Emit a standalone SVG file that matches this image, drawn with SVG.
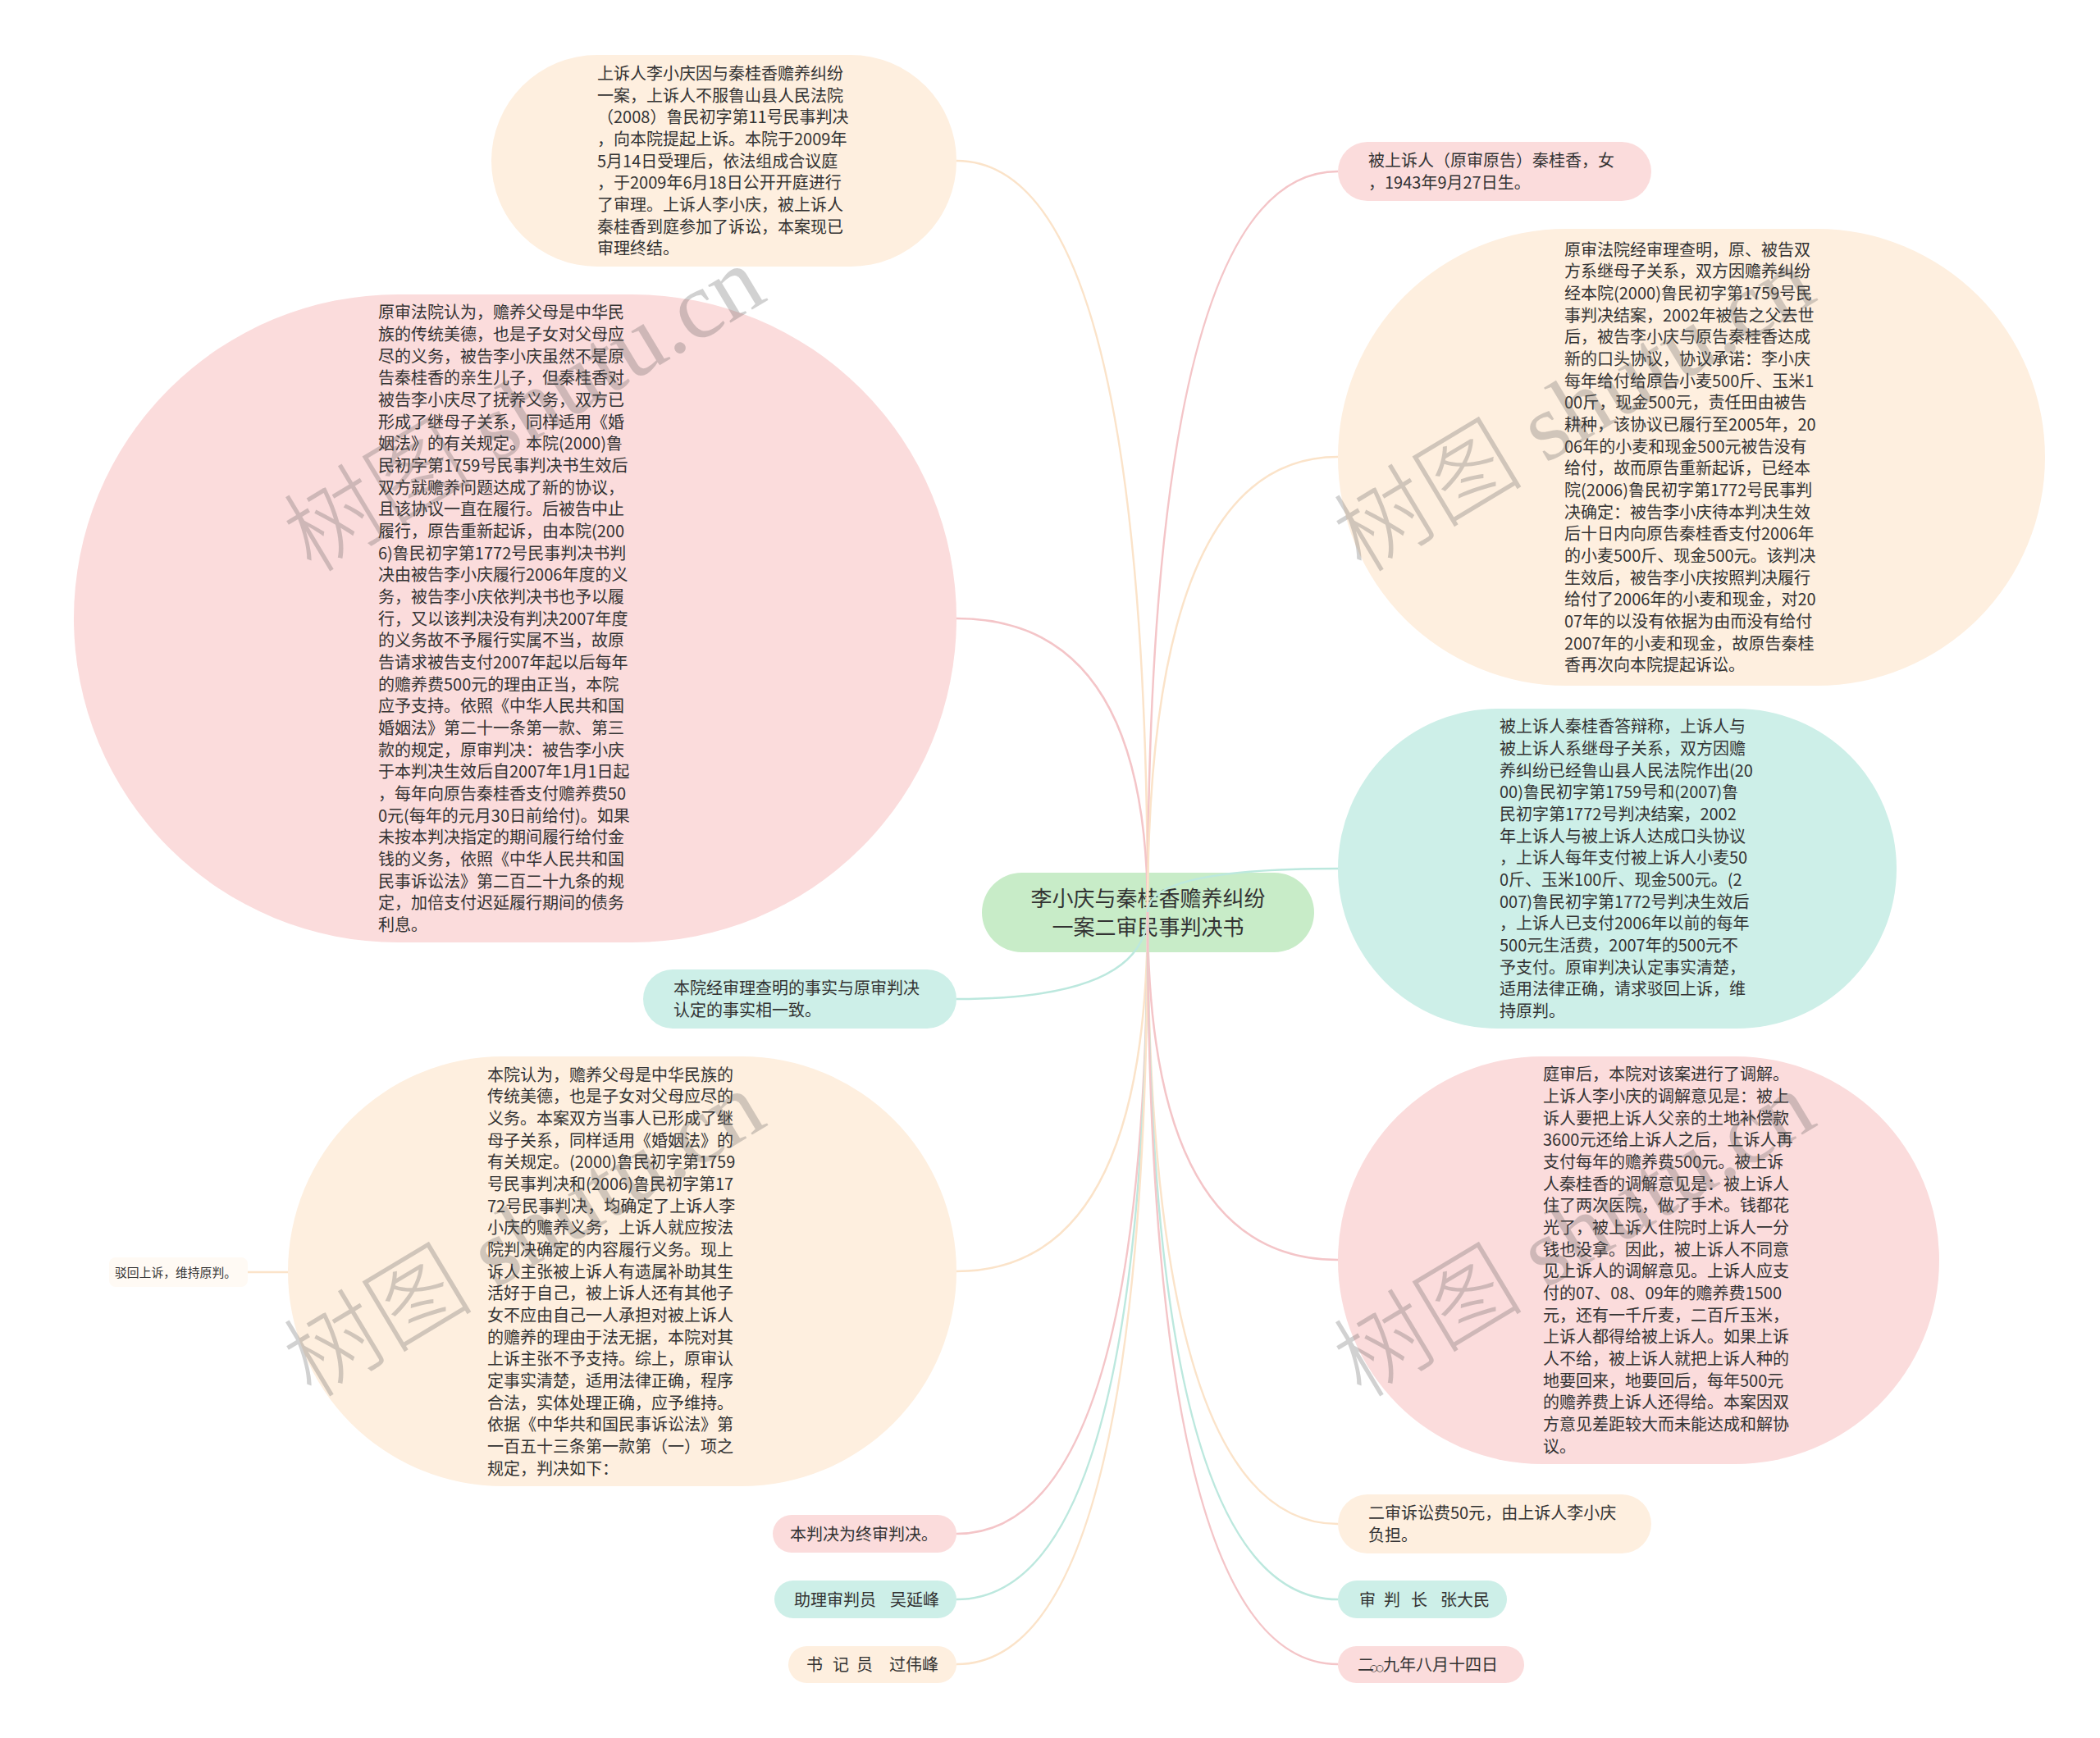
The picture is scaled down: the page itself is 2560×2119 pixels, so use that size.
<svg xmlns="http://www.w3.org/2000/svg" width="2560" height="2119" viewBox="0 0 2560 2119">
<defs>
<style>
.t{font-family:"Noto Sans CJK SC","Noto Sans",sans-serif;font-size:20px;fill:#333;}
.ct{font-family:"Noto Sans CJK SC","Noto Sans",sans-serif;font-size:26px;fill:#333;text-anchor:middle;}
.st{font-family:"Noto Sans CJK SC","Noto Sans",sans-serif;font-size:14.8px;fill:#333;}
.pink{fill:#fbdcdc;}
.peach{fill:#feefdf;}
.cyan{fill:#cdefe8;}
.green{fill:#c8ecc8;}
.c{fill:none;stroke-width:2.5;}
.cp{stroke:#f4c5c8;}
.ce{stroke:#fbe3c9;}
.cc{stroke:#bce8de;}
.wm{font-family:"Liberation Serif","Noto Sans CJK SC",serif;font-size:116px;font-weight:300;fill:#5a5a5a;fill-opacity:0.28;}
</style>
</defs>
<rect width="2560" height="2119" fill="#ffffff"/>

<g id="root">
<rect class="green" x="1197" y="1064" width="405" height="97" rx="48.5"/>
<text class="ct"><tspan x="1399.5" y="1105">李小庆与秦桂香赡养纠纷</tspan><tspan x="1399.5" y="1140">一案二审民事判决书</tspan></text>
</g>

<g id="n1">
<rect class="peach" x="599" y="67" width="567" height="258" rx="129"/>
<text class="t"><tspan x="728" y="96.9">上诉人李小庆因与秦桂香赡养纠纷</tspan><tspan x="728" dy="26.67">一案，上诉人不服鲁山县人民法院</tspan><tspan x="728" dy="26.67">（2008）鲁民初字第11号民事判决</tspan><tspan x="728" dy="26.67">，向本院提起上诉。本院于2009年</tspan><tspan x="728" dy="26.67">5月14日受理后，依法组成合议庭</tspan><tspan x="728" dy="26.67">，于2009年6月18日公开开庭进行</tspan><tspan x="728" dy="26.67">了审理。上诉人李小庆，被上诉人</tspan><tspan x="728" dy="26.67">秦桂香到庭参加了诉讼，本案现已</tspan><tspan x="728" dy="26.67">审理终结。</tspan></text>
</g>

<g id="n2">
<rect class="pink" x="90" y="359" width="1076" height="790" rx="395"/>
<text class="t"><tspan x="461" y="388.2">原审法院认为，赡养父母是中华民</tspan><tspan x="461" dy="26.67">族的传统美德，也是子女对父母应</tspan><tspan x="461" dy="26.67">尽的义务，被告李小庆虽然不是原</tspan><tspan x="461" dy="26.67">告秦桂香的亲生儿子，但秦桂香对</tspan><tspan x="461" dy="26.67">被告李小庆尽了抚养义务，双方已</tspan><tspan x="461" dy="26.67">形成了继母子关系，同样适用《婚</tspan><tspan x="461" dy="26.67">姻法》的有关规定。本院(2000)鲁</tspan><tspan x="461" dy="26.67">民初字第1759号民事判决书生效后</tspan><tspan x="461" dy="26.67">双方就赡养问题达成了新的协议，</tspan><tspan x="461" dy="26.67">且该协议一直在履行。后被告中止</tspan><tspan x="461" dy="26.67">履行，原告重新起诉，由本院(200</tspan><tspan x="461" dy="26.67">6)鲁民初字第1772号民事判决书判</tspan><tspan x="461" dy="26.67">决由被告李小庆履行2006年度的义</tspan><tspan x="461" dy="26.67">务，被告李小庆依判决书也予以履</tspan><tspan x="461" dy="26.67">行，又以该判决没有判决2007年度</tspan><tspan x="461" dy="26.67">的义务故不予履行实属不当，故原</tspan><tspan x="461" dy="26.67">告请求被告支付2007年起以后每年</tspan><tspan x="461" dy="26.67">的赡养费500元的理由正当，本院</tspan><tspan x="461" dy="26.67">应予支持。依照《中华人民共和国</tspan><tspan x="461" dy="26.67">婚姻法》第二十一条第一款、第三</tspan><tspan x="461" dy="26.67">款的规定，原审判决：被告李小庆</tspan><tspan x="461" dy="26.67">于本判决生效后自2007年1月1日起</tspan><tspan x="461" dy="26.67">，每年向原告秦桂香支付赡养费50</tspan><tspan x="461" dy="26.67">0元(每年的元月30日前给付)。如果</tspan><tspan x="461" dy="26.67">未按本判决指定的期间履行给付金</tspan><tspan x="461" dy="26.67">钱的义务，依照《中华人民共和国</tspan><tspan x="461" dy="26.67">民事诉讼法》第二百二十九条的规</tspan><tspan x="461" dy="26.67">定，加倍支付迟延履行期间的债务</tspan><tspan x="461" dy="26.67">利息。</tspan></text>
</g>

<g id="n3">
<rect class="cyan" x="784" y="1182" width="382" height="72" rx="36"/>
<text class="t"><tspan x="821" y="1212.3">本院经审理查明的事实与原审判决</tspan><tspan x="821" dy="26.67">认定的事实相一致。</tspan></text>
</g>

<g id="n4">
<rect class="peach" x="351" y="1288" width="815" height="524" rx="262"/>
<text class="t"><tspan x="594" y="1317.6">本院认为，赡养父母是中华民族的</tspan><tspan x="594" dy="26.67">传统美德，也是子女对父母应尽的</tspan><tspan x="594" dy="26.67">义务。本案双方当事人已形成了继</tspan><tspan x="594" dy="26.67">母子关系，同样适用《婚姻法》的</tspan><tspan x="594" dy="26.67">有关规定。(2000)鲁民初字第1759</tspan><tspan x="594" dy="26.67">号民事判决和(2006)鲁民初字第17</tspan><tspan x="594" dy="26.67">72号民事判决，均确定了上诉人李</tspan><tspan x="594" dy="26.67">小庆的赡养义务，上诉人就应按法</tspan><tspan x="594" dy="26.67">院判决确定的内容履行义务。现上</tspan><tspan x="594" dy="26.67">诉人主张被上诉人有遗属补助其生</tspan><tspan x="594" dy="26.67">活好于自己，被上诉人还有其他子</tspan><tspan x="594" dy="26.67">女不应由自己一人承担对被上诉人</tspan><tspan x="594" dy="26.67">的赡养的理由于法无据，本院对其</tspan><tspan x="594" dy="26.67">上诉主张不予支持。综上，原审认</tspan><tspan x="594" dy="26.67">定事实清楚，适用法律正确，程序</tspan><tspan x="594" dy="26.67">合法，实体处理正确，应予维持。</tspan><tspan x="594" dy="26.67">依据《中华共和国民事诉讼法》第</tspan><tspan x="594" dy="26.67">一百五十三条第一款第（一）项之</tspan><tspan x="594" dy="26.67">规定，判决如下：</tspan></text>
</g>

<g id="n5">
<rect x="133" y="1533" width="169" height="36" rx="8" fill="#fffaf4"/>
<text class="st" x="140" y="1556.6">驳回上诉，维持原判。</text>
</g>

<g id="n6">
<rect class="pink" x="942" y="1847" width="224" height="46" rx="23"/>
<text class="t" x="963" y="1877.6">本判决为终审判决。</text>
</g>

<g id="n7">
<rect class="cyan" x="944" y="1927" width="222" height="46" rx="23"/>
<text class="t" x="968 988 1008 1028 1048 1068 1085 1105 1125" y="1957.6">助理审判员　吴延峰</text>
</g>

<g id="n8">
<rect class="peach" x="961" y="2007" width="205" height="45" rx="22.5"/>
<text class="t" x="983 1003 1015 1035 1044 1064 1084 1104 1124" y="2037">书 记 员　过伟峰</text>
</g>

<g id="n9">
<rect class="pink" x="1631" y="173" width="382" height="72" rx="36"/>
<text class="t"><tspan x="1668" y="203.3">被上诉人（原审原告）秦桂香，女</tspan><tspan x="1668" dy="26.67">，1943年9月27日生。</tspan></text>
</g>

<g id="n10">
<rect class="peach" x="1631" y="279" width="862" height="557" rx="278.5"/>
<text class="t"><tspan x="1907" y="311.7">原审法院经审理查明，原、被告双</tspan><tspan x="1907" dy="26.67">方系继母子关系，双方因赡养纠纷</tspan><tspan x="1907" dy="26.67">经本院(2000)鲁民初字第1759号民</tspan><tspan x="1907" dy="26.67">事判决结案，2002年被告之父去世</tspan><tspan x="1907" dy="26.67">后，被告李小庆与原告秦桂香达成</tspan><tspan x="1907" dy="26.67">新的口头协议，协议承诺：李小庆</tspan><tspan x="1907" dy="26.67">每年给付给原告小麦500斤、玉米1</tspan><tspan x="1907" dy="26.67">00斤，现金500元，责任田由被告</tspan><tspan x="1907" dy="26.67">耕种，该协议已履行至2005年，20</tspan><tspan x="1907" dy="26.67">06年的小麦和现金500元被告没有</tspan><tspan x="1907" dy="26.67">给付，故而原告重新起诉，已经本</tspan><tspan x="1907" dy="26.67">院(2006)鲁民初字第1772号民事判</tspan><tspan x="1907" dy="26.67">决确定：被告李小庆待本判决生效</tspan><tspan x="1907" dy="26.67">后十日内向原告秦桂香支付2006年</tspan><tspan x="1907" dy="26.67">的小麦500斤、现金500元。该判决</tspan><tspan x="1907" dy="26.67">生效后，被告李小庆按照判决履行</tspan><tspan x="1907" dy="26.67">给付了2006年的小麦和现金，对20</tspan><tspan x="1907" dy="26.67">07年的以没有依据为由而没有给付</tspan><tspan x="1907" dy="26.67">2007年的小麦和现金，故原告秦桂</tspan><tspan x="1907" dy="26.67">香再次向本院提起诉讼。</tspan></text>
</g>

<g id="n11">
<rect class="cyan" x="1631" y="864" width="681" height="390" rx="195"/>
<text class="t"><tspan x="1828" y="893.2">被上诉人秦桂香答辩称，上诉人与</tspan><tspan x="1828" dy="26.67">被上诉人系继母子关系，双方因赡</tspan><tspan x="1828" dy="26.67">养纠纷已经鲁山县人民法院作出(20</tspan><tspan x="1828" dy="26.67">00)鲁民初字第1759号和(2007)鲁</tspan><tspan x="1828" dy="26.67">民初字第1772号判决结案，2002</tspan><tspan x="1828" dy="26.67">年上诉人与被上诉人达成口头协议</tspan><tspan x="1828" dy="26.67">，上诉人每年支付被上诉人小麦50</tspan><tspan x="1828" dy="26.67">0斤、玉米100斤、现金500元。(2</tspan><tspan x="1828" dy="26.67">007)鲁民初字第1772号判决生效后</tspan><tspan x="1828" dy="26.67">，上诉人已支付2006年以前的每年</tspan><tspan x="1828" dy="26.67">500元生活费，2007年的500元不</tspan><tspan x="1828" dy="26.67">予支付。原审判决认定事实清楚，</tspan><tspan x="1828" dy="26.67">适用法律正确，请求驳回上诉，维</tspan><tspan x="1828" dy="26.67">持原判。</tspan></text>
</g>

<g id="n12">
<rect class="pink" x="1631" y="1288" width="733" height="497" rx="248.5"/>
<text class="t"><tspan x="1881" y="1317.4">庭审后，本院对该案进行了调解。</tspan><tspan x="1881" dy="26.67">上诉人李小庆的调解意见是：被上</tspan><tspan x="1881" dy="26.67">诉人要把上诉人父亲的土地补偿款</tspan><tspan x="1881" dy="26.67">3600元还给上诉人之后，上诉人再</tspan><tspan x="1881" dy="26.67">支付每年的赡养费500元。被上诉</tspan><tspan x="1881" dy="26.67">人秦桂香的调解意见是：被上诉人</tspan><tspan x="1881" dy="26.67">住了两次医院，做了手术。钱都花</tspan><tspan x="1881" dy="26.67">光了，被上诉人住院时上诉人一分</tspan><tspan x="1881" dy="26.67">钱也没拿。因此，被上诉人不同意</tspan><tspan x="1881" dy="26.67">见上诉人的调解意见。上诉人应支</tspan><tspan x="1881" dy="26.67">付的07、08、09年的赡养费1500</tspan><tspan x="1881" dy="26.67">元，还有一千斤麦，二百斤玉米，</tspan><tspan x="1881" dy="26.67">上诉人都得给被上诉人。如果上诉</tspan><tspan x="1881" dy="26.67">人不给，被上诉人就把上诉人种的</tspan><tspan x="1881" dy="26.67">地要回来，地要回后，每年500元</tspan><tspan x="1881" dy="26.67">的赡养费上诉人还得给。本案因双</tspan><tspan x="1881" dy="26.67">方意见差距较大而未能达成和解协</tspan><tspan x="1881" dy="26.67">议。</tspan></text>
</g>

<g id="n13">
<rect class="peach" x="1631" y="1822" width="382" height="72" rx="36"/>
<text class="t"><tspan x="1668" y="1852.3">二审诉讼费50元，由上诉人李小庆</tspan><tspan x="1668" dy="26.67">负担。</tspan></text>
</g>

<g id="n14">
<rect class="cyan" x="1631" y="1927" width="206" height="46" rx="23"/>
<text class="t" x="1657 1677 1687 1707 1720 1740 1756 1776 1796" y="1957.6">审 判 长　张大民</text>
</g>

<g id="n15">
<rect class="pink" x="1631" y="2007" width="227" height="45" rx="22.5"/>
<text class="t" x="1655" y="2037">二<tspan x="1670" style="font-family:'DejaVu Sans',sans-serif;font-size:11px">○</tspan><tspan x="1677.5" style="font-family:'DejaVu Sans',sans-serif;font-size:11px">○</tspan><tspan x="1686">九年八月十四日</tspan></text>
</g>

<g id="connectors">
<path class="c ce" d="M1399 1112 Q1399 196 1166 196"/>
<path class="c cp" d="M1399 1112 Q1399 754 1166 754"/>
<path class="c cc" d="M1399 1112 Q1399 1218 1166 1218"/>
<path class="c ce" d="M1399 1112 Q1399 1550 1166 1550"/>
<path class="c cp" d="M1399 1112 Q1399 1870 1166 1870"/>
<path class="c cc" d="M1399 1112 Q1399 1950 1166 1950"/>
<path class="c ce" d="M1399 1112 Q1399 2029 1166 2029"/>
<path class="c cp" d="M1399 1112 Q1399 209 1631 209"/>
<path class="c ce" d="M1399 1112 Q1399 557 1631 557"/>
<path class="c cc" d="M1399 1112 Q1399 1059 1631 1059"/>
<path class="c cp" d="M1399 1112 Q1399 1536 1631 1536"/>
<path class="c ce" d="M1399 1112 Q1399 1858 1631 1858"/>
<path class="c cc" d="M1399 1112 Q1399 1950 1631 1950"/>
<path class="c cp" d="M1399 1112 Q1399 2029 1631 2029"/>
<path class="c ce" d="M302 1551 L351 1551"/>
</g>

<g id="watermarks">
<text class="wm" transform="translate(380 700) rotate(-31)">树图 shutu.cn</text>
<text class="wm" transform="translate(1660 700) rotate(-31)">树图 shutu.cn</text>
<text class="wm" transform="translate(380 1706) rotate(-31)">树图 shutu.cn</text>
<text class="wm" transform="translate(1660 1706) rotate(-31)">树图 shutu.cn</text>
</g>
</svg>
